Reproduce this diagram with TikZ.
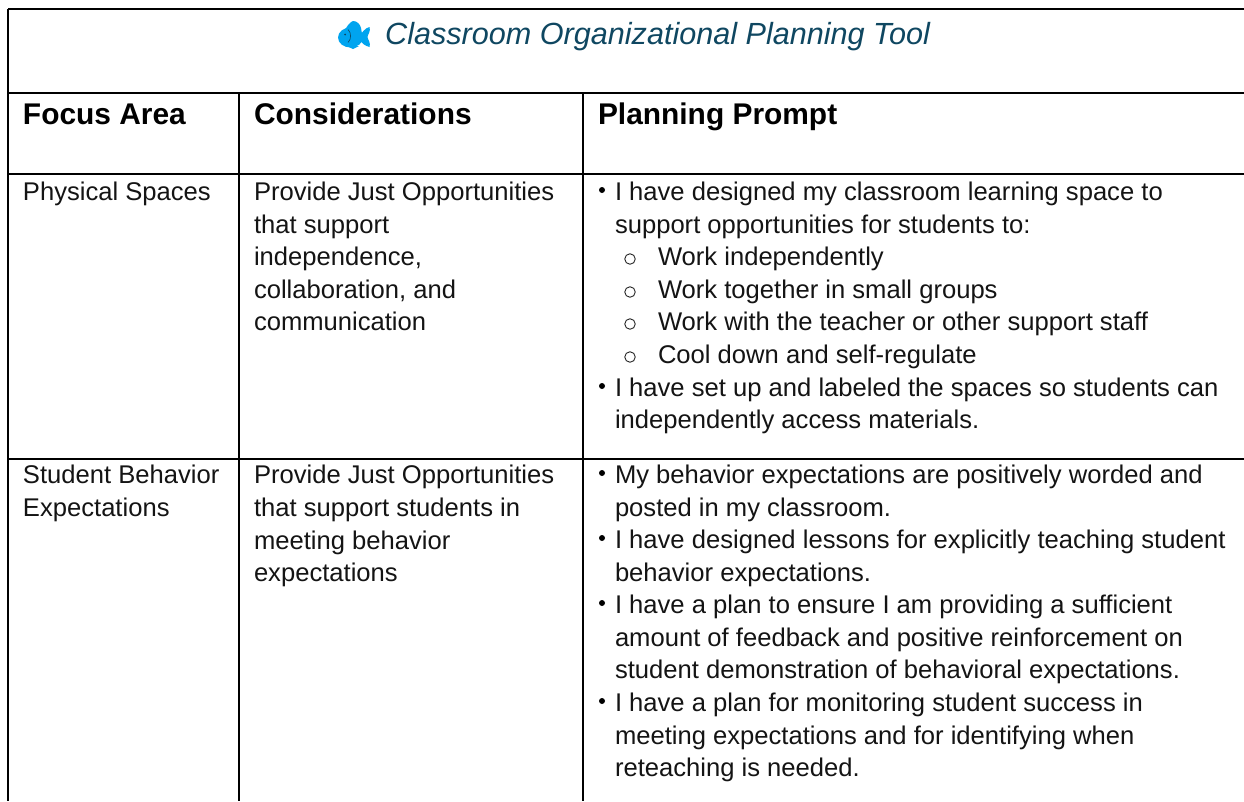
\documentclass[tikz,border=0pt]{standalone}
\usepackage{fontspec}
\setmainfont{Liberation Sans}
\definecolor{titleblue}{HTML}{0F4761}
\definecolor{fishblue}{HTML}{00A4EF}
\tikzset{
  rule/.style={line width=2.4pt,black},
  txt/.style={anchor=base west,inner sep=0pt,outer sep=0pt,text=black!92,font=\fontsize{25.6}{28}\selectfont},
  head/.style={anchor=base west,inner sep=0pt,outer sep=0pt,text=black,font=\fontsize{29.9}{32}\selectfont\bfseries},
  bul/.style={circle,fill=black,inner sep=0pt,minimum size=6pt},
  hollow/.style={circle,draw=black!85,line width=0.9pt,inner sep=0pt,minimum size=10.5pt}
}
\begin{document}
\begin{tikzpicture}[x=1pt,y=-1pt]
\useasboundingbox (0,0) rectangle (1244,801);
\fill[white] (0,0) rectangle (1244,801);
% table rules
\coordinate (tl) at (8,9); \coordinate (tr) at (1244,9);
\coordinate (hl) at (8,93); \coordinate (hr) at (1244,93);
\coordinate (al) at (8,174); \coordinate (ar) at (1244,174);
\coordinate (bl) at (8,459); \coordinate (br) at (1244,459);
\coordinate (el) at (8,801);
\coordinate (c1t) at (239,93); \coordinate (c1b) at (239,801);
\coordinate (c2t) at (583,93); \coordinate (c2b) at (583,801);
\draw[rule] (tl)--(tr); \draw[rule] (hl)--(hr); \draw[rule] (al)--(ar); \draw[rule] (bl)--(br);
\draw[rule] (tl)--(el);
\draw[rule] (c1t)--(c1b); \draw[rule] (c2t)--(c2b);
% fish
\fill[fishblue] (350.5,37.5) ellipse (12.5 and 10);
\fill[fishblue] (345,30) .. controls (347,26) and (350,22) .. (353,21) .. controls (357,21) and (360,24) .. (361,28) -- (362,34) -- cycle;
\fill[fishblue] (347,46) -- (353,49) -- (359,46) -- cycle;
\fill[fishblue] (359,38) .. controls (361,33) and (365,28) .. (369.5,27) .. controls (371,31) and (368,34) .. (367.5,37) .. controls (368,40) and (371,43) .. (369.5,47) .. controls (365,46) and (361,43) .. (359,38) -- cycle;
\draw[titleblue,line width=.6pt] (348,29.5) .. controls (351.5,33) and (351.5,39) .. (348,42.5);
\fill[titleblue] (345,34.5) circle (1);
% title
\node[anchor=base west,inner sep=0pt,text=titleblue,font=\fontsize{30.6}{34}\selectfont\itshape] (title) at (385,44) {Classroom Organizational Planning Tool};
% headers
\node[head] (h1) at (23,124) {Focus Area};
\node[head] (h2) at (254,124) {Considerations};
\node[head] (h3) at (598,124) {Planning Prompt};
% col 1
\node[txt] (a1) at (23,200) {Physical Spaces};
\node[txt] (b1) at (23,483) {Student Behavior};
\node[txt] (b2) at (23,516) {Expectations};
% col 2
\node[txt] (c1) at (254,200) {Provide Just Opportunities};
\node[txt] (c2) at (254,233) {that support};
\node[txt] (c3) at (254,265) {independence,};
\node[txt] (c4) at (254,298) {collaboration, and};
\node[txt] (c5) at (254,330) {communication};
\node[txt] (d1) at (254,483) {Provide Just Opportunities};
\node[txt] (d2) at (254,516) {that support students in};
\node[txt] (d3) at (254,549) {meeting behavior};
\node[txt] (d4) at (254,581) {expectations};
% col 3 row 1
\node[bul] (p1) at (602,190) {};
\node[txt] (e1) at (615,200) {I have designed my classroom learning space to};
\node[txt] (e2) at (615,233) {support opportunities for students to:};
\node[hollow] (o1) at (630,259) {};
\node[txt] (f1) at (658,265) {Work independently};
\node[hollow] (o2) at (630,292) {};
\node[txt] (f2) at (658,298) {Work together in small groups};
\node[hollow] (o3) at (630,324) {};
\node[txt] (f3) at (658,330) {Work with the teacher or other support staff};
\node[hollow] (o4) at (630,357) {};
\node[txt] (f4) at (658,363) {Cool down and self-regulate};
\node[bul] (p2) at (602,386) {};
\node[txt] (g1) at (615,396) {I have set up and labeled the spaces so students can};
\node[txt] (g2) at (615,428) {independently access materials.};
% col 3 row 2
\node[bul] (q1) at (602,473) {};
\node[txt] (h11) at (615,483) {My behavior expectations are positively worded and};
\node[txt] (h12) at (615,516) {posted in my classroom.};
\node[bul] (q2) at (602,538) {};
\node[txt] (h21) at (615,548) {I have designed lessons for explicitly teaching student};
\node[txt] (h22) at (615,581) {behavior expectations.};
\node[bul] (q3) at (602,603) {};
\node[txt] (h31) at (615,613) {I have a plan to ensure I am providing a sufficient};
\node[txt] (h32) at (615,646) {amount of feedback and positive reinforcement on};
\node[txt] (h33) at (615,678) {student demonstration of behavioral expectations.};
\node[bul] (q4) at (602,701) {};
\node[txt] (h41) at (615,711) {I have a plan for monitoring student success in};
\node[txt] (h42) at (615,744) {meeting expectations and for identifying when};
\node[txt] (h43) at (615,776) {reteaching is needed.};
\end{tikzpicture}
\end{document}
